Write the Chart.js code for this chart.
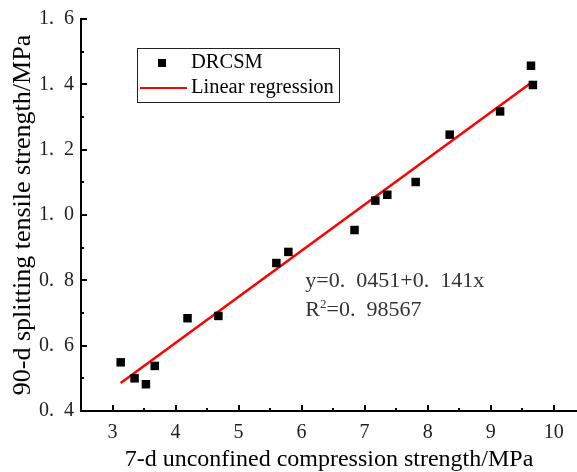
<!DOCTYPE html>
<html>
<head>
<meta charset="utf-8">
<script src="https://cdn.jsdelivr.net/npm/chart.js@4/dist/chart.umd.min.js"></script>
<style>
  html, body { margin: 0; padding: 0; background: #fff; }
  #wrap { width: 577px; height: 472px; }
</style>
</head>
<body>
<div id="wrap"><canvas id="myChart" width="577" height="472"></canvas></div>
<script>
// measured points (7-d UCS vs 90-d splitting tensile strength)
var ucs = [3.13, 3.35, 3.53, 3.67, 4.19, 4.68, 5.60, 5.79, 6.84, 7.17, 7.36, 7.81, 8.35, 9.15, 9.64, 9.67];
var sts = [0.549, 0.500, 0.482, 0.538, 0.684, 0.691, 0.853, 0.887, 0.954, 1.044, 1.062, 1.101, 1.246, 1.317, 1.457, 1.398];

// fitted line end points
var fitX = [3.13, 9.67];
var fitY = [0.486, 1.409];

var xTicks = [3, 4, 5, 6, 7, 8, 9, 10];
var yTicks = [0.4, 0.6, 0.8, 1.0, 1.2, 1.4, 1.6];

var seriesNames = ["DRCSM", "Linear regression"];
var eqLines = ["y=0.\u20020451+0.\u2002141x", "R", "=0.\u200298567"];

var serif = "'Liberation Serif', 'DejaVu Serif', serif";

var points = ucs.map(function (v, i) { return { x: v, y: sts[i] }; });
var fit = fitX.map(function (v, i) { return { x: v, y: fitY[i] }; });

// inward major/minor ticks, legend box and the equation text
var extras = {
  id: "extras",
  afterDraw: function (chart) {
    var ctx = chart.ctx;
    var xs = chart.scales.x, ys = chart.scales.y;
    var area = chart.chartArea;
    ctx.save();
    ctx.strokeStyle = "#000";
    ctx.lineWidth = 2;
    ctx.beginPath();
    xTicks.forEach(function (v) {
      var px = Math.round(xs.getPixelForValue(v));
      ctx.moveTo(px, area.bottom); ctx.lineTo(px, area.bottom - 6);
      var mx = Math.round(xs.getPixelForValue(v + 0.5));
      if (v + 0.5 < xs.max) { ctx.moveTo(mx, area.bottom); ctx.lineTo(mx, area.bottom - 3); }
    });
    yTicks.forEach(function (v, i) {
      var py = Math.round(ys.getPixelForValue(v));
      ctx.moveTo(area.left, py); ctx.lineTo(area.left + 6, py);
      if (i < yTicks.length - 1) {
        var my = Math.round(ys.getPixelForValue(v + 0.1));
        ctx.moveTo(area.left, my); ctx.lineTo(area.left + 3, my);
      }
    });
    ctx.stroke();

    // legend
    var bx = area.left + 56, by = area.top + 29, bw = 202, bh = 54;
    ctx.lineWidth = 1;
    ctx.strokeStyle = "#222";
    ctx.strokeRect(bx + 0.5, by + 0.5, bw, bh);
    ctx.fillStyle = "#000";
    ctx.fillRect(bx + 21, by + 11, 8, 8);
    ctx.strokeStyle = "#ff0000";
    ctx.lineWidth = 2;
    ctx.beginPath();
    ctx.moveTo(bx + 3, by + 40); ctx.lineTo(bx + 50, by + 40);
    ctx.stroke();
    ctx.font = "20.5px " + serif;
    ctx.textBaseline = "middle";
    ctx.textAlign = "left";
    ctx.fillText(seriesNames[0], bx + 54, by + 15);
    ctx.fillText(seriesNames[1], bx + 54, by + 40);

    // equation
    var ex = xs.getPixelForValue(6.06);
    ctx.fillStyle = "#333";
    ctx.font = "22px " + serif;
    ctx.fillText(eqLines[0], ex, ys.getPixelForValue(0.796));
    var ry = ys.getPixelForValue(0.707);
    ctx.fillText(eqLines[1], ex, ry);
    var rw = ctx.measureText(eqLines[1]).width;
    ctx.font = "13px " + serif;
    ctx.fillText("2", ex + rw, ry - 6);
    var sw = ctx.measureText("2").width;
    ctx.font = "22px " + serif;
    ctx.fillText(eqLines[2], ex + rw + sw, ry);
    ctx.restore();
  }
};

var ctx = document.getElementById("myChart").getContext("2d");
var chart = new Chart(ctx, {
  type: "scatter",
  data: {
    datasets: [
      {
        label: seriesNames[0],
        data: points,
        pointStyle: "rect",
        pointRadius: 6,
        pointBorderWidth: 0,
        backgroundColor: "#000",
        borderColor: "#000",
        order: 1
      },
      {
        label: seriesNames[1],
        type: "line",
        data: fit,
        borderColor: "#ff0000",
        borderWidth: 2.5,
        pointRadius: 0,
        fill: false,
        order: 2
      }
    ]
  },
  options: {
    responsive: false,
    animation: false,
    devicePixelRatio: 1,
    layout: { autoPadding: false, padding: { left: 0, right: 0, top: 19, bottom: 0 } },
    plugins: { legend: { display: false }, tooltip: { enabled: false } },
    scales: {
      x: {
        type: "linear",
        min: 2.5,
        max: 10.37,
        afterBuildTicks: function (s) { s.ticks = xTicks.map(function (v) { return { value: v }; }); },
        afterFit: function (s) { s.height = 61; },
        grid: { display: false, drawTicks: false },
        border: { display: true, color: "#000", width: 2 },
        ticks: {
          padding: 10,
          color: "#222",
          maxRotation: 0,
          font: { family: serif, size: 20 },
          callback: function (v) { return String(v); }
        },
        title: {
          display: true,
          text: "7-d unconfined compression strength/MPa",
          color: "#000",
          font: { family: serif, size: 24, lineHeight: 1 },
          padding: { top: 0, bottom: 0 }
        }
      },
      y: {
        type: "linear",
        min: 0.4,
        max: 1.6,
        afterBuildTicks: function (s) { s.ticks = yTicks.map(function (v) { return { value: v }; }); },
        afterFit: function (s) { s.width = 81; },
        grid: { display: false, drawTicks: false },
        border: { display: true, color: "#000", width: 2 },
        ticks: {
          padding: 7,
          color: "#222",
          font: { family: serif, size: 20 },
          callback: function (v) { return v.toFixed(1).replace(".", ".\u2002"); }
        },
        title: {
          display: true,
          text: "90-d splitting tensile strength/MPa",
          color: "#000",
          font: { family: serif, size: 26, lineHeight: 1 },
          padding: { top: 10, bottom: 0 }
        }
      }
    }
  },
  plugins: [extras]
});
</script>
</body>
</html>
